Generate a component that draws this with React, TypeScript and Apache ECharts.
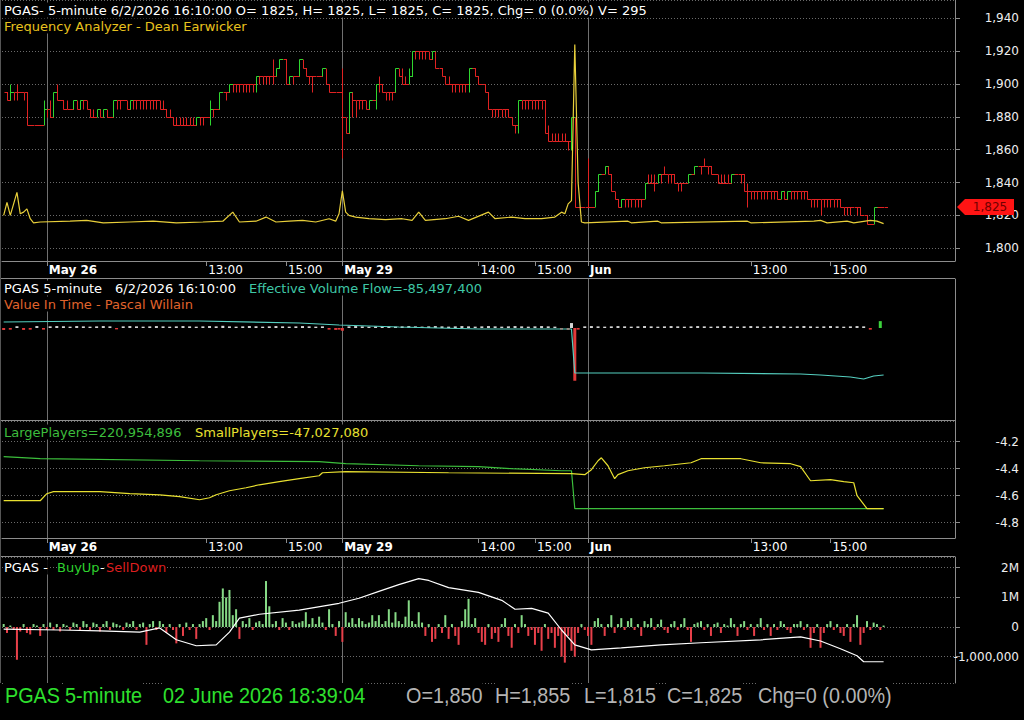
import React, { useEffect, useRef } from 'react';
import * as echarts from 'echarts';

// ---------------- DATA ----------------
const SLOT_COUNT = 287;
const timeTickIndex = [13, 61, 85, 102, 143, 160, 176, 225, 249];
const timeTickText = ['May 26', '13:00', '15:00', 'May 29', '14:00', '15:00', 'Jun', '13:00', '15:00'];
const dayStartIndex = [13, 102, 176];

const priceClose = [
  1895,1890,1895,1895,1895,1895,1895,1875,1875,1875,
  1875,1875,1885,1885,1880,1895,1890,1890,1885,1885,
  1885,1890,1885,1890,1890,1885,1880,1880,1885,1880,
  1885,1880,1880,1890,1890,1890,1890,1885,1890,1890,
  1890,1890,1890,1890,1890,1890,1890,1885,1885,1880,
  1880,1875,1875,1875,1875,1875,1875,1875,1880,1880,
  1880,1880,1885,1885,1885,1895,1895,1895,1900,1900,
  1900,1900,1900,1900,1900,1900,1905,1905,1905,1905,
  1905,1905,1910,1915,1915,1900,1905,1905,1905,1915,
  1910,1905,1905,1905,1905,1905,1910,1900,1895,1895,
  1895,1895,1880,1870,1895,1890,1890,1890,1890,1885,
  1890,1890,1900,1900,1895,1895,1895,1895,1910,1905,
  1900,1900,1905,1920,1920,1920,1920,1920,1915,1920,
  1910,1910,1905,1900,1900,1900,1900,1900,1900,1900,
  1910,1910,1905,1900,1900,1895,1885,1885,1885,1885,
  1885,1885,1880,1875,1875,1890,1890,1890,1890,1890,
  1890,1890,1890,1870,1865,1865,1865,1865,1865,1865,
  1865,1880,1825,1825,1825,1825,1825,1825,1835,1845,
  1845,1850,1845,1835,1830,1825,1830,1830,1830,1830,
  1830,1830,1830,1840,1840,1840,1840,1845,1845,1845,
  1845,1845,1840,1840,1840,1840,1845,1845,1850,1850,
  1850,1850,1850,1845,1845,1840,1840,1840,1840,1845,
  1845,1845,1845,1835,1835,1835,1835,1835,1835,1835,
  1835,1835,1835,1830,1835,1830,1835,1835,1835,1835,
  1835,1835,1830,1830,1830,1830,1830,1830,1830,1830,
  1830,1830,1825,1825,1825,1825,1825,1825,1820,1820,
  1815,1815,1825,1825,1825,1825,
];
const priceHigh = [
  1895,1890,1900,1895,1900,1895,1895,1875,1875,1875,
  1875,1875,1890,1885,1890,1895,1900,1890,1885,1890,
  1885,1890,1890,1890,1890,1890,1880,1885,1885,1880,
  1885,1885,1880,1890,1890,1890,1890,1885,1890,1890,
  1890,1890,1890,1890,1890,1890,1890,1885,1890,1880,
  1885,1875,1880,1880,1880,1880,1880,1880,1880,1880,
  1880,1880,1890,1885,1885,1895,1895,1895,1900,1900,
  1900,1900,1900,1900,1900,1900,1905,1905,1905,1905,
  1905,1915,1910,1915,1915,1915,1905,1905,1905,1915,
  1910,1905,1905,1905,1905,1905,1910,1910,1895,1895,
  1895,1895,1910,1875,1895,1890,1890,1890,1890,1885,
  1890,1890,1900,1905,1895,1895,1895,1895,1910,1910,
  1910,1905,1910,1920,1920,1920,1920,1920,1915,1920,
  1915,1910,1905,1900,1905,1900,1900,1900,1900,1900,
  1910,1910,1905,1900,1900,1895,1885,1885,1885,1885,
  1885,1885,1880,1880,1875,1890,1890,1890,1890,1890,
  1890,1890,1890,1870,1875,1870,1870,1870,1870,1870,
  1865,1880,1880,1825,1825,1825,1855,1825,1835,1845,
  1845,1850,1850,1835,1830,1825,1830,1830,1830,1830,
  1830,1830,1830,1840,1845,1845,1845,1845,1845,1850,
  1845,1845,1840,1840,1840,1840,1845,1845,1850,1850,
  1850,1855,1850,1845,1845,1840,1845,1845,1845,1845,
  1845,1845,1845,1835,1840,1835,1835,1835,1835,1835,
  1835,1835,1835,1830,1835,1830,1835,1835,1835,1835,
  1835,1835,1830,1830,1830,1830,1830,1830,1830,1830,
  1830,1830,1825,1825,1825,1825,1825,1825,1820,1820,
  1815,1815,1825,1825,1825,1825,
];
const priceLow = [
  1895,1890,1890,1890,1890,1895,1890,1875,1875,1875,
  1875,1875,1875,1880,1880,1880,1890,1890,1885,1885,
  1885,1885,1885,1890,1885,1885,1880,1880,1880,1880,
  1880,1880,1880,1880,1885,1885,1890,1885,1885,1885,
  1885,1885,1885,1885,1885,1885,1885,1885,1885,1880,
  1880,1875,1875,1875,1875,1875,1875,1875,1875,1875,
  1875,1880,1875,1880,1885,1885,1895,1890,1895,1895,
  1895,1895,1895,1895,1895,1895,1895,1900,1900,1900,
  1900,1900,1905,1910,1915,1900,1900,1900,1905,1905,
  1910,1905,1900,1895,1905,1905,1905,1900,1895,1895,
  1895,1895,1855,1870,1870,1880,1880,1885,1885,1885,
  1885,1890,1885,1895,1895,1890,1890,1890,1895,1905,
  1900,1900,1900,1905,1915,1915,1915,1915,1915,1915,
  1910,1910,1905,1900,1900,1895,1895,1895,1895,1895,
  1895,1910,1905,1900,1900,1895,1885,1880,1880,1880,
  1880,1880,1880,1875,1870,1870,1885,1885,1885,1885,
  1885,1885,1885,1870,1865,1865,1865,1865,1865,1865,
  1860,1860,1825,1825,1825,1825,1825,1825,1825,1835,
  1845,1845,1845,1835,1830,1825,1825,1825,1825,1825,
  1825,1825,1825,1830,1840,1840,1835,1840,1840,1845,
  1840,1840,1840,1835,1835,1840,1840,1845,1845,1850,
  1845,1850,1845,1845,1845,1840,1840,1840,1840,1840,
  1845,1845,1840,1835,1825,1830,1830,1830,1830,1830,
  1830,1830,1830,1830,1830,1830,1830,1830,1830,1830,
  1830,1830,1830,1825,1825,1825,1820,1825,1825,1825,
  1825,1825,1825,1820,1820,1820,1825,1820,1820,1820,
  1815,1815,1815,1825,1825,1825,
];
const lastClose = 1825;

// Frequency Analyzer (price-scale overlay), [bar index, value]
const freqAnalyzer = [
  [0,1820],[1,1828],[2,1820],[3,1827],[4,1834],[5,1821],[6,1822],[7,1824],[8,1818],[9,1815.5],
  [11,1816],[20,1816.5],[25,1817],[30,1815.5],[38,1816],[45,1816.5],[52,1815.5],[60,1816],[66,1816.5],
  [69,1822],[71,1816],[76,1816.5],[79,1819],[82,1816],[86,1816.5],[90,1817],[94,1816],[98,1818],
  [100,1816.5],[101,1821],[102,1835],[103,1822],[104,1820],[106,1819],[110,1818],[115,1817.5],
  [120,1818],[123,1817],[125,1822],[127,1817],[133,1818],[137,1819.5],[140,1817],[146,1822],
  [148,1818],[153,1819],[157,1818],[162,1818],[166,1819],[168,1822],[169,1821],[170,1827],
  [171,1829],[172,1924],[173,1840],[174,1816],[175,1815.5],[188,1816.5],[189,1815.5],[197,1816.5],
  [198,1815.5],[224,1816.5],[225,1815.5],[244,1816.5],[246,1817],[248,1815.5],[254,1816.5],
  [256,1815.5],[261,1817],[263,1816.5],[265,1815],
];

// Effective Volume Flow (millions), [bar index, value]
const effVolumeFlow = [
  [0,10.9],[29,12.7],[59,12.7],[89,9.1],[101,5.5],[119,1.8],[143,-1.8],[171,-1.8],
  [172,-81.9],[210,-81.9],[240,-83.7],[246,-85.5],[255,-89.2],[259,-92.8],[262,-87.4],[265,-85.5],
];

// Value In Time histogram (millions), [bar index, value]
const valueInTime = [
  [0,-3.5],[2,-3],[4,3],[6,-3.5],[8,-3],[10,3.5],[12,-3],[14,3],[16,3.5],[18,3],[20,2.5],[22,3.5],
  [24,3],[26,2.5],[28,3],[30,3.5],[32,3],[34,-2.5],[36,3],[38,3.5],[40,3],[42,2.5],[44,3],[46,3.5],
  [48,3],[50,2.5],[52,3],[54,3.5],[56,3],[58,2.5],[60,3],[62,3.5],[64,3],[66,4],[68,3],[70,2.5],
  [72,3],[74,3.5],[76,3],[78,2.5],[80,3],[82,3.5],[84,3],[86,2.5],[88,3],[90,3.5],[92,3],[94,2.5],
  [96,3],[98,-3],[100,-3.5],[101,-3],[102,-5],[104,3],[106,3.5],[108,3],[110,2.5],[112,3],[114,3.5],
  [116,3],[118,2.5],[120,3],[122,3.5],[124,3],[126,2.5],[128,3],[130,3.5],[132,3],[134,2.5],[136,3],
  [138,3.5],[140,3],[142,2.5],[144,3],[146,3.5],[148,3],[150,2.5],[152,3],[154,3.5],[156,3],[158,2.5],
  [160,3],[162,3.5],[164,3],[166,2.5],[168,-3],[170,-3.5],[171,9],[172,-96],[173,-3],[175,3],
  [177,3.5],[179,3],[181,2.5],[183,3],[185,3.5],[187,3],[189,2.5],[191,3],[193,3.5],[195,3],[197,2.5],
  [199,3],[201,3.5],[203,3],[205,2.5],[207,3],[209,3.5],[211,3],[213,2.5],[215,3],[217,3.5],[219,3],
  [221,2.5],[223,3],[225,3.5],[227,3],[229,2.5],[231,3],[233,3.5],[235,3],[237,2.5],[239,3],[241,3.5],
  [243,3],[245,2.5],[247,3],[249,3.5],[251,3],[253,2.5],[255,3],[257,3.5],[259,3],[261,-3],[264,12.5],
];

// LargePlayers / SmallPlayers, [bar index, value]
const largePlayers = [
  [0,-4.311],[11,-4.326],[59,-4.341],[95,-4.348],[103,-4.363],[125,-4.378],[143,-4.385],
  [153,-4.4],[168,-4.415],[171,-4.415],[172,-4.696],[265,-4.696],
];
const smallPlayers = [
  [0,-4.637],[11,-4.637],[13,-4.585],[15,-4.57],[29,-4.57],[38,-4.585],[47,-4.593],[53,-4.607],
  [59,-4.63],[62,-4.615],[64,-4.593],[68,-4.563],[73,-4.541],[77,-4.519],[83,-4.496],[89,-4.474],
  [95,-4.452],[96,-4.43],[103,-4.422],[134,-4.43],[171,-4.437],[175,-4.444],[177,-4.407],
  [179,-4.341],[180,-4.319],[182,-4.378],[184,-4.474],[185,-4.444],[188,-4.415],[193,-4.393],
  [199,-4.378],[207,-4.356],[210,-4.326],[222,-4.326],[228,-4.356],[237,-4.363],[240,-4.385],
  [243,-4.489],[249,-4.481],[253,-4.496],[256,-4.504],[257,-4.6],[260,-4.696],[265,-4.696],
];

// BuyUp-SellDown histogram (millions), one per bar
const buySellBars = [
  0.1,-0.2,0.05,-0.1,-1.1,-0.15,0.1,-0.2,-0.25,0.1,
  0.05,-0.3,0.1,-0.1,0.15,-0.1,0.1,-0.15,0.1,0.05,
  -0.1,0.15,0.1,-0.1,0.2,0.1,-0.1,0.15,0.1,-0.15,
  0.1,0.2,-0.1,0.15,0.1,0.05,-0.1,0.15,0.1,0.2,
  -0.1,0.1,0.15,-0.6,0.1,0.2,-0.1,0.2,0.1,-0.2,
  0.1,-0.1,-0.55,0.1,-0.3,0.15,-0.1,0.1,-0.4,0.1,
  0.2,0.3,-0.1,0.4,0.2,0.85,1.3,1.0,1.25,0.4,
  0.6,-0.4,0.2,0.1,0.3,-0.1,0.15,0.2,0.1,1.55,
  0.7,0.1,0.2,-0.1,0.3,0.15,-0.1,0.2,0.1,0.15,
  0.2,0.5,0.1,0.3,0.1,0.35,0.15,-0.1,0.6,0.1,
  -0.3,0.2,-0.5,0.5,0.15,0.3,0.1,0.3,0.2,0.1,
  0.15,0.4,0.2,0.4,0.1,0.2,0.6,0.15,0.5,0.2,
  0.1,0.35,0.9,0.2,0.1,0.5,0.15,-0.3,0.1,-0.5,
  -0.4,0.1,-0.2,0.4,-0.4,0.1,-0.3,-0.6,0.2,0.6,
  0.95,0.1,0.3,-0.2,-0.5,-0.6,0.1,-0.4,-0.2,-0.5,
  0.1,0.3,-0.3,-0.7,0.1,-0.2,0.4,0.1,-0.3,-0.1,
  -0.6,-0.2,-0.8,0.1,-0.4,-0.2,-0.7,-0.3,-1.0,-1.2,
  -0.3,-0.8,-1.0,-0.2,0.1,-0.1,-0.3,-0.6,0.2,0.3,
  0.1,-0.3,0.1,0.4,-0.2,0.1,0.3,-0.1,0.2,0.3,
  -0.1,0.1,-0.3,0.2,0.1,0.3,-0.1,0.1,0.25,-0.1,
  -0.2,0.1,0.2,-0.1,0.1,0.3,-0.1,-0.5,0.1,0.15,
  0.2,-0.1,0.1,-0.3,0.1,0.15,-0.2,0.1,0.05,0.3,
  0.1,-0.3,0.1,0.2,-0.1,0.1,-0.3,0.1,0.3,-0.1,
  0.1,-0.3,0.1,-0.1,0.2,0.1,-0.1,-0.2,0.1,0.1,
  0.2,-0.1,0.1,-0.7,-0.2,0.1,-0.7,-0.2,0.1,0.2,
  -0.1,0.1,-0.2,-0.3,0.1,-0.5,0.1,0.4,-0.6,-0.2,
  0.2,-0.1,0.15,0.1,-0.1,0.05,
];
const buySellLine = [
  [0,-0.07],[17,-0.1],[29,-0.13],[41,-0.17],[47,-0.03],[52,-0.43],[58,-0.63],[64,-0.6],[68,-0.17],
  [71,0.3],[77,0.43],[89,0.57],[101,0.8],[107,0.97],[113,1.2],[119,1.43],[125,1.63],[128,1.57],
  [134,1.33],[143,1.17],[150,0.9],[154,0.6],[159,0.63],[164,0.47],[168,-0.1],[172,-0.6],[177,-0.77],
  [186,-0.7],[198,-0.6],[210,-0.53],[228,-0.43],[240,-0.33],[246,-0.47],[252,-0.73],[257,-0.97],
  [259,-1.17],[265,-1.17],
];

// ---------------- STYLE ----------------
const FONT = '"DejaVu Sans", Verdana, sans-serif';
const UP = '#2fd62f';
const DOWN = '#e02222';
const YELLOW = '#e8cf3a';
const AXIS = '#8c8c8c';
const GRID_LINE = '#6a6a6a';
const DAYLINE = '#707070';

const tickSet = new Set(timeTickIndex);
const categories = Array.from({ length: SLOT_COUNT }, (_, i) => String(i));

function makeXAxis(gridIndex: number, withLabels: boolean) {
  return {
    type: 'category',
    gridIndex,
    data: categories,
    boundaryGap: true,
    axisLine: { show: withLabels, lineStyle: { color: AXIS, width: 1 } },
    axisTick: {
      show: withLabels,
      alignWithLabel: true,
      interval: (i: number) => tickSet.has(i),
      length: 5,
      lineStyle: { color: AXIS },
    },
    axisLabel: {
      show: withLabels,
      interval: (i: number) => tickSet.has(i),
      align: 'left',
      margin: 3,
      padding: [0, 0, 0, 2],
      formatter: (_v: string, i: number) => {
        const k = timeTickIndex.indexOf(i);
        if (k < 0) return '';
        const t = timeTickText[k];
        return dayStartIndex.includes(i) ? `{d|${t}}` : `{t|${t}}`;
      },
      rich: {
        d: { color: '#ffffff', fontWeight: 'bold', fontSize: 12, fontFamily: FONT },
        t: { color: '#ffffff', fontSize: 12, fontFamily: FONT },
      },
    },
    splitLine: { show: false },
  };
}

function makeYAxis(gridIndex: number, min: number, max: number, splitNumber: number, formatter: any, showLabels = true) {
  return {
    type: 'value',
    gridIndex,
    position: 'right',
    min,
    max,
    splitNumber,
    axisLine: { show: true, lineStyle: { color: AXIS } },
    axisTick: { show: showLabels, length: 5, lineStyle: { color: AXIS } },
    axisLabel: {
      show: showLabels,
      color: '#eeeeee',
      fontFamily: FONT,
      fontSize: 12,
      align: 'right',
      margin: 64,
      showMinLabel: false,
      showMaxLabel: false,
      formatter,
    },
    splitLine: { show: showLabels, lineStyle: { color: GRID_LINE, type: [1, 2] } },
  };
}

export default function App() {
  const ref = useRef<HTMLDivElement>(null);
  useEffect(() => {
    document.body.style.margin = '0';
    document.body.style.background = '#000';
    const chart = echarts.init(ref.current!, null, { renderer: 'svg' });

    const priceRows = priceClose.map((c, i) => [i, c, priceHigh[i], priceLow[i], i > 0 ? priceClose[i - 1] : c]);

    const option: any = {
      animation: false,
      backgroundColor: '#000000',
      grid: [
        { left: 2, right: 69, top: 0, height: 261 },
        { left: 2, right: 69, top: 279, height: 142 },
        { left: 2, right: 69, top: 421, height: 117 },
        { left: 2, right: 69, top: 557, height: 126 },
      ],
      xAxis: [makeXAxis(0, true), makeXAxis(1, false), makeXAxis(2, true), makeXAxis(3, false)],
      yAxis: [
        makeYAxis(0, 1792.27, 1951.1, 7, (v: number) => v.toLocaleString('en-US')),
        makeYAxis(1, -169.26, 89.18, 4, () => '', false),
        makeYAxis(2, -4.913, -4.0467, 4, (v: number) => v.toFixed(1)),
        makeYAxis(3, -1.886, 2.36, 4, (v: number) => (v === 0 ? '0' : v === -1 ? '-1,000,000' : `${v}M`)),
      ],
      series: [
        {
          type: 'custom',
          xAxisIndex: 0,
          yAxisIndex: 0,
          data: priceRows,
          encode: { x: 0, y: [1, 2, 3, 4] },
          clip: true,
          z: 3,
          renderItem: (_p: any, api: any) => {
            const i = api.value(0);
            const c = api.value(1);
            const h = api.value(2);
            const l = api.value(3);
            const pc = api.value(4);
            const top = Math.max(h, c, pc);
            const bot = Math.min(l, c, pc);
            const pTop = api.coord([i, top]);
            const pBot = api.coord([i, bot]);
            const pC = api.coord([i, c]);
            const w = api.size([1, 0])[0];
            const x = Math.round(pTop[0]) + 0.5;
            const yc = Math.round(pC[1]) + 0.5;
            const color = c > pc ? UP : DOWN;
            return {
              type: 'group',
              children: [
                {
                  type: 'line',
                  shape: { x1: x, y1: Math.round(pTop[1]) + 0.5, x2: x, y2: Math.round(pBot[1]) + 0.5 },
                  style: { stroke: color, lineWidth: 1 },
                },
                {
                  type: 'line',
                  shape: { x1: x, y1: yc, x2: Math.round(x + w), y2: yc },
                  style: { stroke: color, lineWidth: 1 },
                },
              ],
            };
          },
        },
        {
          type: 'line',
          xAxisIndex: 0,
          yAxisIndex: 0,
          data: freqAnalyzer,
          symbol: 'none',
          z: 4,
          lineStyle: { color: YELLOW, width: 1.2 },
        },
        {
          type: 'bar',
          xAxisIndex: 1,
          yAxisIndex: 1,
          data: valueInTime,
          barWidth: 3,
          itemStyle: {
            color: (p: any) => {
              const v = p.value[1];
              return v >= 10 ? '#3cd23c' : v >= 0 ? '#d4d4d4' : '#e03a3a';
            },
          },
        },
        {
          type: 'line',
          xAxisIndex: 1,
          yAxisIndex: 1,
          data: effVolumeFlow,
          symbol: 'none',
          lineStyle: { color: '#55cfc0', width: 1.2 },
        },
        {
          type: 'line',
          xAxisIndex: 2,
          yAxisIndex: 2,
          data: largePlayers,
          symbol: 'none',
          lineStyle: { color: '#3cbf3c', width: 1.2 },
        },
        {
          type: 'line',
          xAxisIndex: 2,
          yAxisIndex: 2,
          data: smallPlayers,
          symbol: 'none',
          lineStyle: { color: '#e8e030', width: 1.2 },
        },
        {
          type: 'bar',
          xAxisIndex: 3,
          yAxisIndex: 3,
          data: buySellBars,
          barWidth: 2,
          itemStyle: { color: (p: any) => (p.value >= 0 ? '#86da86' : '#e8404a') },
        },
        {
          type: 'line',
          xAxisIndex: 3,
          yAxisIndex: 3,
          data: buySellLine,
          symbol: 'none',
          z: 4,
          lineStyle: { color: '#ffffff', width: 1.2 },
        },
      ],
    };
    chart.setOption(option);

    const px = (gi: number, idx: number, v: number) => chart.convertToPixel({ gridIndex: gi } as any, [idx, v]) as number[];

    const panelRanges = [[0, 261], [279, 421], [421, 538], [557, 683]];
    const dayLines: any[] = [];
    dayStartIndex.forEach((d) => {
      const x = Math.round(px(0, d, 1850)[0]) + 0.5;
      panelRanges.forEach(([a, b]) => {
        dayLines.push({ type: 'line', z: 1, silent: true, shape: { x1: x, y1: a, x2: x, y2: b }, style: { stroke: DAYLINE, lineWidth: 1 } });
      });
    });
    const sep = (y: number) => ({ type: 'line', z: 1, silent: true, shape: { x1: 0, y1: y, x2: 955, y2: y }, style: { stroke: AXIS, lineWidth: 1 } });

    const txt = (x: number, y: number, text: string, fill: string, font = `13px ${FONT}`, scaleX = 1) => ({
      type: 'text',
      x,
      y,
      z: 20,
      scaleX,
      silent: true,
      style: { text, fill, font, verticalAlign: 'middle', backgroundColor: '#000', padding: [1, 0, 1, 0] },
    });

    const markY = Math.round(px(0, 0, lastClose)[1]);
    const SF = `22px "Liberation Sans", Arial, sans-serif`;
    const SX = 0.9;

    chart.setOption({
      graphic: [
        ...dayLines,
        sep(278.5),
        sep(420.5),
        sep(556.5),
        { type: 'line', z: 1, silent: true, shape: { x1: 0.5, y1: 0, x2: 0.5, y2: 683 }, style: { stroke: '#555', lineWidth: 1 } },
        txt(4, 10, 'PGAS- 5-minute 6/2/2026 16:10:00 O= 1825, H= 1825, L= 1825, C= 1825, Chg= 0 (0.0%) V= 295', '#ffffff'),
        txt(4, 26, 'Frequency Analyzer - Dean Earwicker', '#e8c21e'),
        txt(4, 288, 'PGAS 5-minute', '#ffffff'),
        txt(115, 288, '6/2/2026 16:10:00', '#ffffff'),
        txt(249, 288, 'Effective Volume Flow=-85,497,400', '#3fc7a6'),
        txt(4, 304, 'Value In Time - Pascal Willain', '#e0642c'),
        txt(4, 432, 'LargePlayers=220,954,896', '#3dbd3d'),
        txt(195, 432, 'SmallPlayers=-47,027,080', '#e8e030'),
        txt(4, 567, 'PGAS -', '#ffffff'),
        txt(57, 567, 'BuyUp', '#2ed22e'),
        txt(100, 567, '-', '#ffffff'),
        txt(106, 567, 'SellDown', '#dd1f1f'),
        txt(5, 695, 'PGAS', '#2ee02e', SF, SX),
        txt(65, 695, '5-minute', '#2ee02e', SF, SX),
        txt(163, 695, '02 June 2026 18:39:04', '#2ee02e', SF, SX),
        txt(406, 695, 'O=1,850', '#b4b4b4', SF, SX),
        txt(495, 695, 'H=1,855', '#b4b4b4', SF, SX),
        txt(584, 695, 'L=1,815', '#b4b4b4', SF, SX),
        txt(667, 695, 'C=1,825', '#b4b4b4', SF, SX),
        txt(758, 695, 'Chg=0 (0.00%)', '#b4b4b4', SF, SX),
        {
          type: 'polygon',
          z: 25,
          silent: true,
          shape: { points: [[957, markY], [965, markY - 8], [1014, markY - 8], [1014, markY + 8], [965, markY + 8]] },
          style: { fill: '#ff1414' },
        },
        {
          type: 'text',
          x: 990,
          y: markY,
          z: 26,
          silent: true,
          style: { text: lastClose.toLocaleString('en-US'), fill: '#700000', font: `12px ${FONT}`, align: 'center', verticalAlign: 'middle' },
        },
      ],
    });

    return () => chart.dispose();
  }, []);
  return <div ref={ref} style={{ width: 1024, height: 720, background: '#000' }} />;
}
